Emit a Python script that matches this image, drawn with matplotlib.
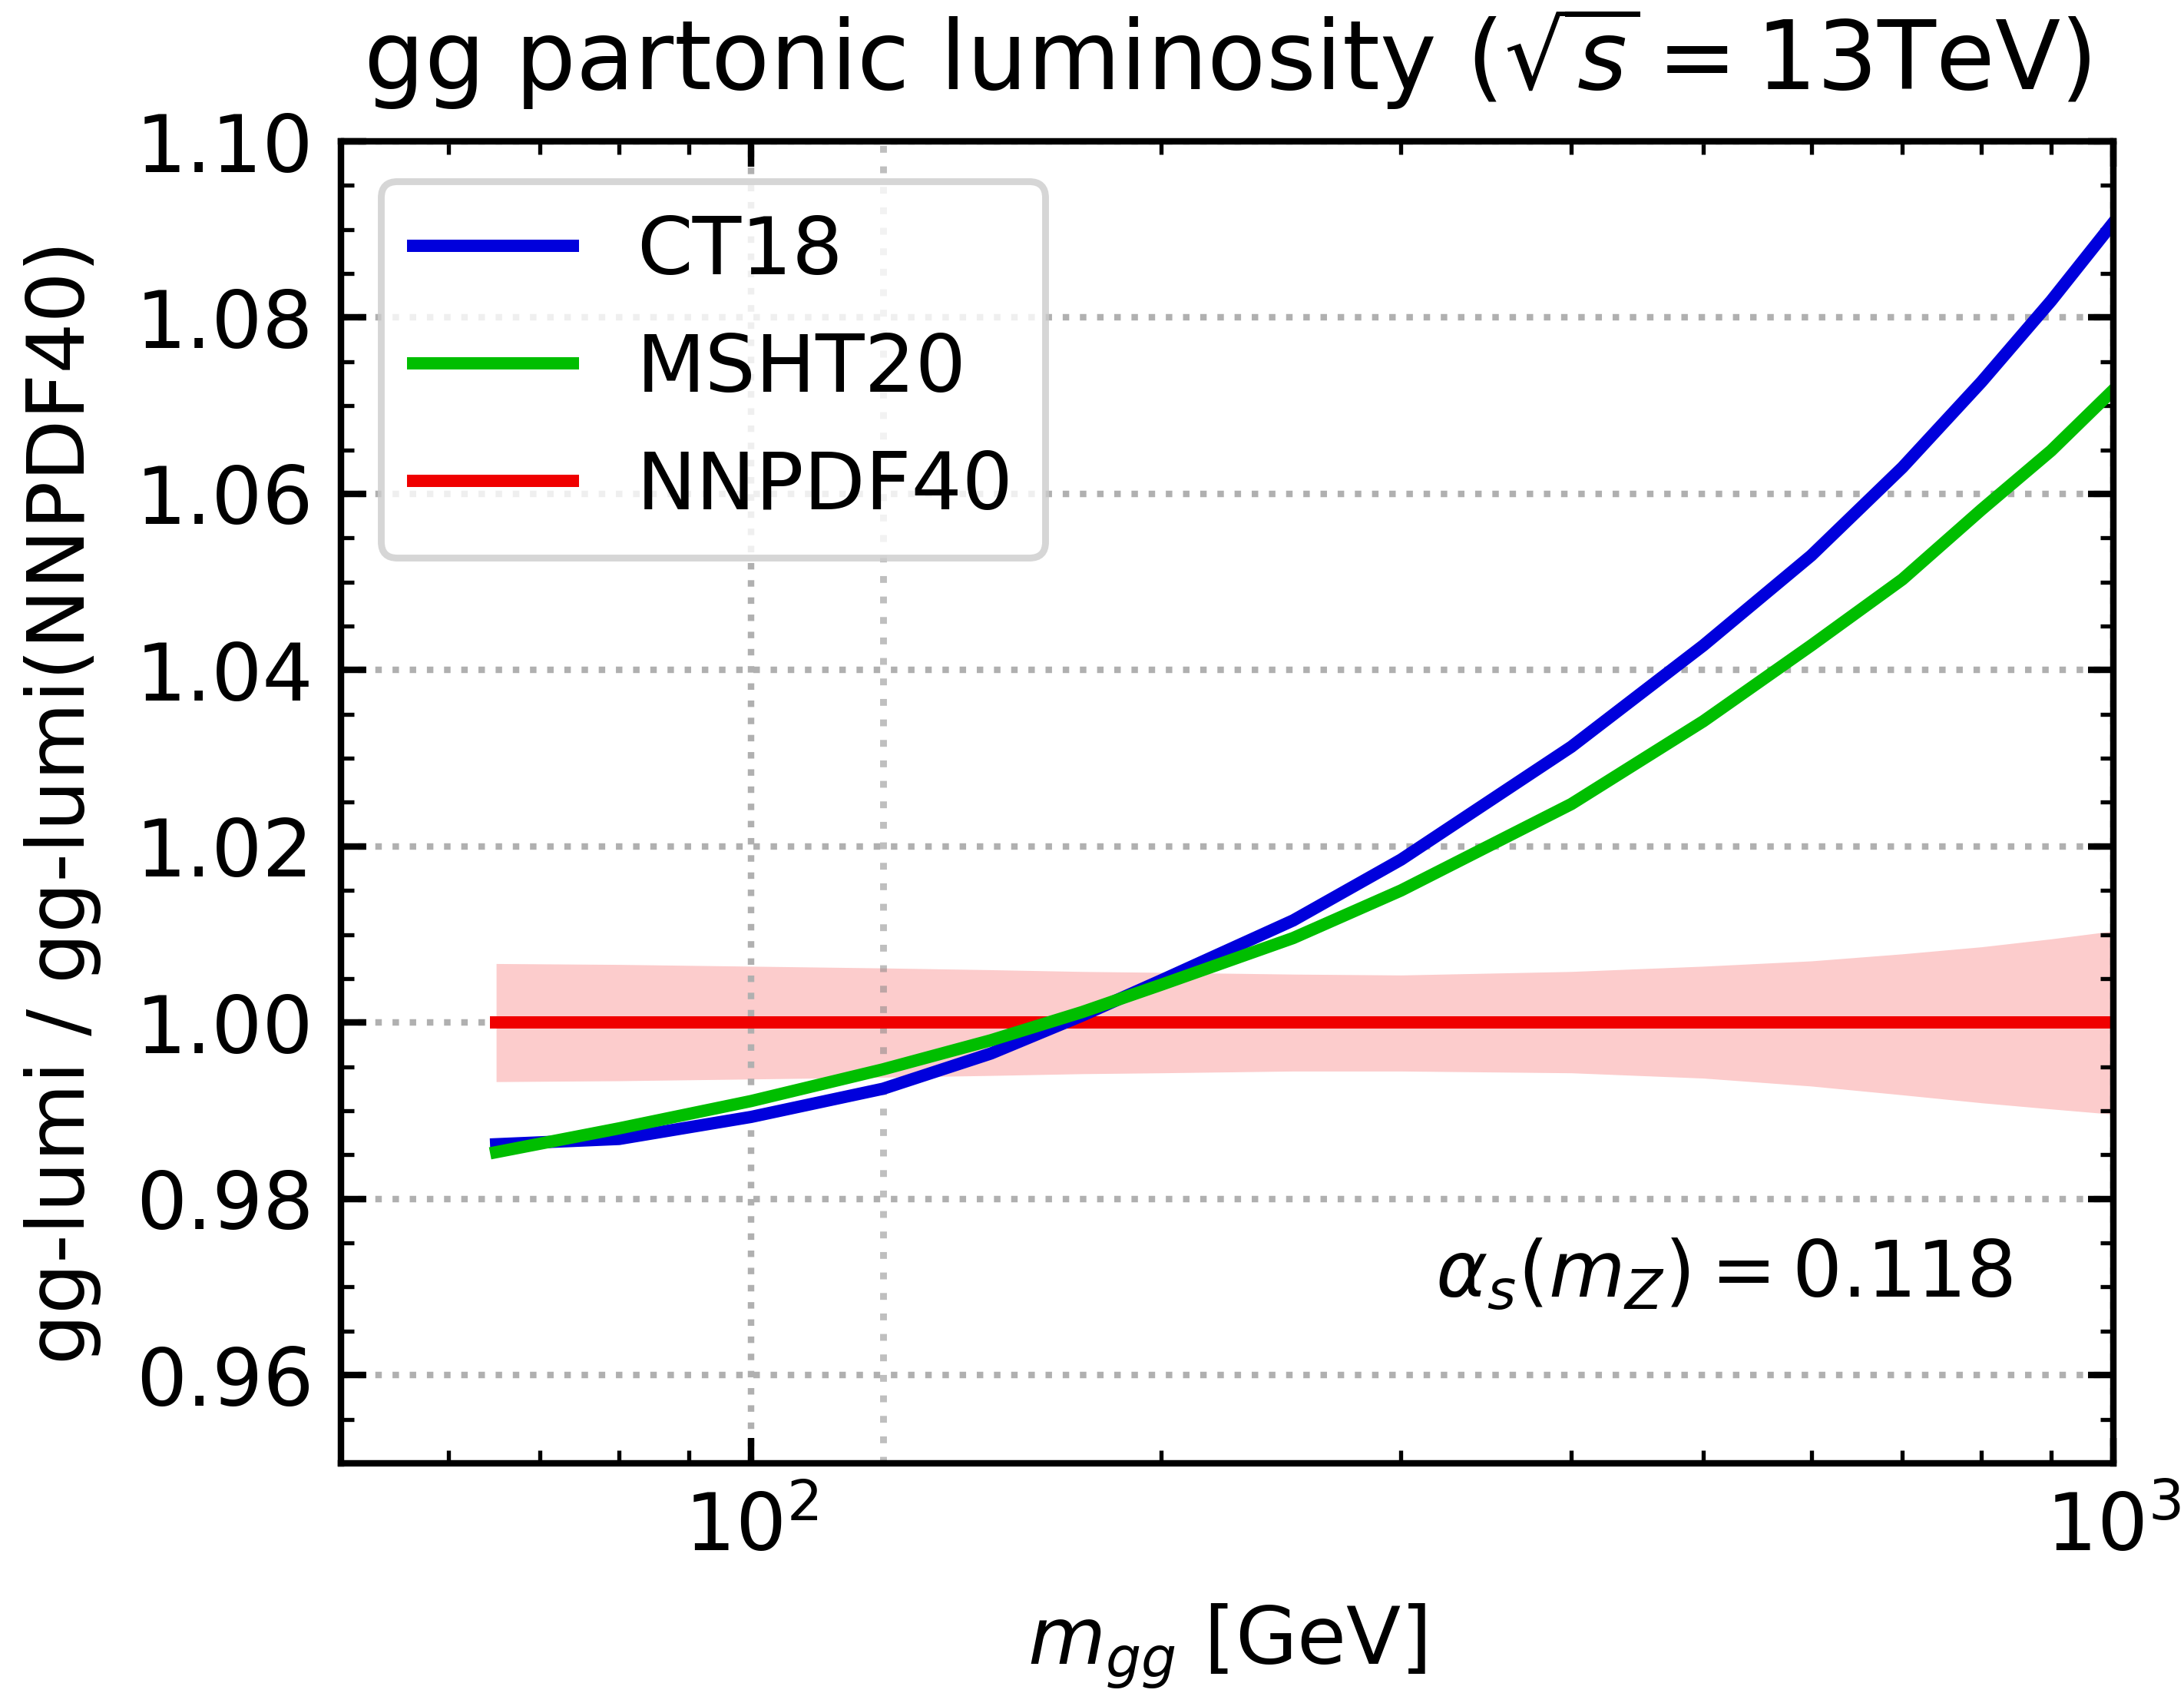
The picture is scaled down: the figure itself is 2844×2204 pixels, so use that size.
import numpy as np
import matplotlib
matplotlib.use("Agg")
import matplotlib.pyplot as plt
from matplotlib.ticker import MultipleLocator, FormatStrFormatter, NullFormatter, LogLocator

# gg luminosity ratios to NNPDF40, sqrt(s) = 13 TeV, alpha_s(mZ) = 0.118
mass = [65, 80, 100, 125, 150, 175, 200, 250, 300, 400, 500, 600, 700, 800, 900, 1000]  # GeV

ct18 = [0.9862, 0.9868, 0.9893, 0.9925, 0.9965, 1.0008, 1.0048, 1.0116, 1.0185,
        1.0313, 1.0428, 1.0530, 1.0630, 1.0727, 1.0819, 1.0908]
msht20 = [0.9853, 0.9880, 0.9911, 0.9947, 0.9980, 1.0012, 1.0043, 1.0096, 1.0150,
          1.0248, 1.0342, 1.0428, 1.0503, 1.0582, 1.0649, 1.0718]
nnpdf40 = [1.0, 1.0, 1.0, 1.0, 1.0, 1.0, 1.0, 1.0, 1.0, 1.0, 1.0, 1.0, 1.0, 1.0, 1.0, 1.0]

# NNPDF40 pdf uncertainty band
nnpdf40_up = [1.0067, 1.0066, 1.0064, 1.0062, 1.0060, 1.0058, 1.0057, 1.0055, 1.0054,
              1.0058, 1.0064, 1.0070, 1.0078, 1.0086, 1.0095, 1.0104]
nnpdf40_dn = [0.9933, 0.9934, 0.9936, 0.9938, 0.9940, 0.9942, 0.9943, 0.9945, 0.9945,
              0.9943, 0.9937, 0.9928, 0.9918, 0.9909, 0.9902, 0.9896]

c_ct, c_msht, c_nn = "#0000dc", "#00be00", "#f00000"
fs = 23.4

fig = plt.figure(figsize=(8.8875, 6.8875), dpi=320)
ax = fig.add_axes([0.1561, 0.1357, 0.8116, 0.7808])

ax.fill_between(mass, nnpdf40_dn, nnpdf40_up, color=c_nn, alpha=0.2, lw=0)
l_nn, = ax.plot(mass, nnpdf40, color=c_nn, lw=3.6, label="NNPDF40")
l_ct, = ax.plot(mass, ct18, color=c_ct, lw=3.6, label="CT18")
l_ms, = ax.plot(mass, msht20, color=c_msht, lw=3.6, label="MSHT20")

ax.axvline(125, color="grey", alpha=0.5, lw=2.0, ls=(0, (1, 2)), zorder=1.5)

ax.set_xscale("log")
ax.set_xlim(50, 1000)
ax.set_ylim(0.95, 1.10)
ax.yaxis.set_major_locator(MultipleLocator(0.02))
ax.yaxis.set_minor_locator(MultipleLocator(0.005))
ax.yaxis.set_major_formatter(FormatStrFormatter("%.2f"))
ax.xaxis.set_minor_locator(LogLocator(base=10, subs=np.arange(2, 10)))
ax.xaxis.set_minor_formatter(NullFormatter())

ax.grid(which="major", ls=":", lw=1.9)

ax.tick_params(which="both", direction="in", top=True, right=True, labelsize=fs, pad=8)
ax.tick_params(which="major", length=7.5, width=1.9)
ax.tick_params(which="minor", length=3.9, width=1.2)
for s in ax.spines.values():
    s.set_linewidth(1.9)

ax.set_title(r"gg partonic luminosity ($\sqrt{s}=13$TeV)", fontsize=28, pad=15)
ax.set_xlabel(r"$m_{gg}$ [GeV]", fontsize=fs, labelpad=10)
ax.set_ylabel("gg-lumi / gg-lumi(NNPDF40)", fontsize=fs, labelpad=10)

ax.text(0.943, 0.142, r"$\alpha_s(m_Z) = 0.118$", transform=ax.transAxes,
        fontsize=23, ha="right", va="center")

leg = ax.legend(handles=[l_ct, l_ms, l_nn], loc="upper left", fontsize=fs)
leg.get_frame().set_linewidth(2.0)

fig.savefig("out.png", dpi=320)
